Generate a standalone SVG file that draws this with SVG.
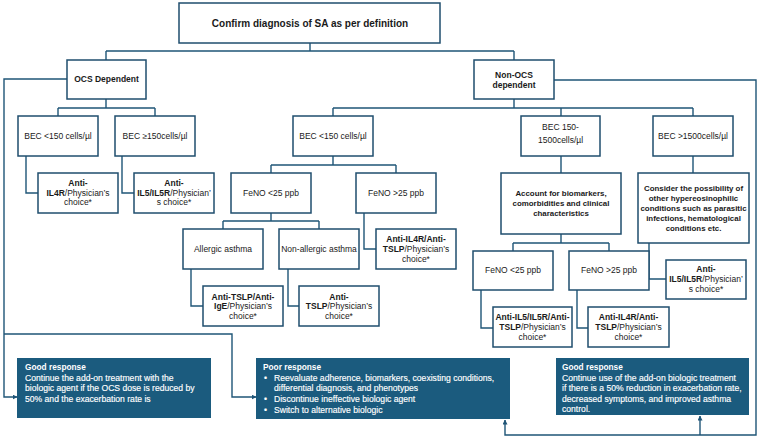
<svg xmlns="http://www.w3.org/2000/svg" width="760" height="438" viewBox="0 0 760 438">
<defs>
<style>
.box{fill:#fff;stroke:#1f4e6e;stroke-width:1.5}
.blue{fill:#1b5b7e;stroke:none}
.ln{fill:none;stroke:#1f5577;stroke-width:1.4}
text{font-family:"Liberation Sans",Arial,sans-serif;fill:#1a1a1a;font-size:8.5px}
.c{text-anchor:middle}
.b{font-weight:bold}
.t{font-size:10px;font-weight:bold}
.ac{font-size:7.9px;font-weight:bold}
.w{fill:#fff;font-size:8.6px;stroke:#fff;stroke-width:0.15}
.wh{fill:#fff;font-size:8.3px;font-weight:bold}
</style>
<marker id="ah" viewBox="0 0 10 10" refX="9" refY="5" markerWidth="5" markerHeight="5" orient="auto" markerUnits="userSpaceOnUse">
<path d="M0,0 L10,5 L0,10 Z" fill="#1f5577"/>
</marker>
</defs>
<rect width="760" height="438" fill="#fff"/>

<g id="connectors">
<path class="ln" d="M310,43 V51 M106,51 H514 M106,51 V60 M514,51 V60"/>
<path class="ln" d="M106,99 V108 M58,108 H155 M58,108 V116 M155,108 V116"/>
<path class="ln" d="M514,99 V108 M333,108 H693 M333,108 V116 M561,108 V116 M693,108 V116"/>
<path class="ln" d="M26,156 V193 H38 M122,156 V193 H134"/>
<path class="ln" d="M333,156 V165 M271,165 H396 M271,165 V173 M396,165 V173"/>
<path class="ln" d="M271,213 V221 M223,221 H319 M223,221 V229 M319,221 V229"/>
<path class="ln" d="M364,213 V249 H376"/>
<path class="ln" d="M191,269 V306 H203 M288,269 V306 H299"/>
<path class="ln" d="M561,156 V173 M693,156 V173"/>
<path class="ln" d="M561,234 V243 M513,243 H609 M513,243 V251 M609,243 V251"/>
<path class="ln" d="M649,243 V279 H666"/>
<path class="ln" d="M481,290 V328 H493 M577,290 V328 H588"/>
<path class="ln" d="M67,79 H4 V397 H17" marker-end="url(#ah)"/>
<path class="ln" d="M4,334 H232 V397 H256" marker-end="url(#ah)"/>
<path class="ln" d="M554,80 H756 V435 H505 V420" marker-end="url(#ah)"/>
<path class="ln" d="M700,435 V416" marker-end="url(#ah)"/>
</g>

<g id="n-top"><rect class="box" x="179" y="3" width="261" height="40"/>
<text class="c t" x="310" y="26.5">Confirm diagnosis of SA as per definition</text></g>

<g id="n-ocs"><rect class="box" x="67" y="60" width="79" height="39"/>
<text class="c b" x="106.5" y="82">OCS Dependent</text></g>

<g id="n-nonocs"><rect class="box" x="474" y="60" width="80" height="39"/>
<text class="c b" x="514" y="78">Non-OCS</text><text class="c b" x="514" y="87.5">dependent</text></g>

<g id="n-bec1"><rect class="box" x="18" y="116" width="80" height="40"/>
<text class="c" x="58" y="139">BEC &lt;150 cells/µl</text></g>

<g id="n-bec2"><rect class="box" x="115" y="116" width="80" height="40"/>
<text class="c" x="155" y="139">BEC ≥150cells/µl</text></g>

<g id="n-bec3"><rect class="box" x="293" y="116" width="80" height="40"/>
<text class="c" x="333" y="139">BEC &lt;150 cells/µl</text></g>

<g id="n-bec4"><rect class="box" x="521" y="116" width="79" height="40"/>
<text class="c" x="560.5" y="130">BEC 150-</text><text class="c" x="560.5" y="143">1500cells/µl</text></g>

<g id="n-bec5"><rect class="box" x="653" y="116" width="80" height="40"/>
<text class="c" x="693" y="139">BEC &gt;1500cells/µl</text></g>

<g id="n-il4r"><rect class="box" x="38" y="173" width="80" height="40"/>
<text class="c" x="78" y="186"><tspan class="b">Anti-</tspan></text>
<text class="c" x="78" y="195.5"><tspan class="b">IL4R</tspan>/Physician’s</text>
<text class="c" x="78" y="205">choice*</text></g>

<g id="n-il5a"><rect class="box" x="134" y="173" width="80" height="40"/>
<text class="c" x="174" y="186"><tspan class="b">Anti-</tspan></text>
<text class="c" x="174" y="195.5"><tspan class="b">IL5/IL5R</tspan>/Physician’</text>
<text class="c" x="174" y="205">s choice*</text></g>

<g id="n-feno1"><rect class="box" x="231" y="173" width="80" height="40"/>
<text class="c" x="271" y="195.5">FeNO &lt;25 ppb</text></g>

<g id="n-feno2"><rect class="box" x="356" y="173" width="80" height="40"/>
<text class="c" x="396" y="195.5">FeNO &gt;25 ppb</text></g>

<g id="n-allergic"><rect class="box" x="183" y="229" width="80" height="40"/>
<text class="c" x="223" y="251.5">Allergic asthma</text></g>

<g id="n-nonallergic"><rect class="box" x="279" y="229" width="80" height="40"/>
<text class="c" x="319" y="251.5">Non-allergic asthma</text></g>

<g id="n-il4rtslp1"><rect class="box" x="376" y="229" width="80" height="40"/>
<text class="c" x="416" y="242"><tspan class="b">Anti-IL4R/Anti-</tspan></text>
<text class="c" x="416" y="252"><tspan class="b">TSLP</tspan>/Physician’s</text>
<text class="c" x="416" y="261.5">choice*</text></g>

<g id="n-tslpige"><rect class="box" x="203" y="286" width="80" height="40"/>
<text class="c" x="243" y="299.5"><tspan class="b">Anti-TSLP/Anti-</tspan></text>
<text class="c" x="243" y="309"><tspan class="b">IgE</tspan>/Physician’s</text>
<text class="c" x="243" y="318.5">choice*</text></g>

<g id="n-tslp"><rect class="box" x="299" y="286" width="80" height="40"/>
<text class="c" x="339" y="299.5"><tspan class="b">Anti-</tspan></text>
<text class="c" x="339" y="309"><tspan class="b">TSLP</tspan>/Physician’s</text>
<text class="c" x="339" y="318.5">choice*</text></g>

<g id="n-account"><rect class="box" x="501" y="173" width="120" height="61"/>
<text class="c ac" x="561" y="196">Account for biomarkers,</text>
<text class="c ac" x="561" y="206">comorbidities and clinical</text>
<text class="c ac" x="561" y="215.5">characteristics</text></g>

<g id="n-consider"><rect class="box" x="638" y="173" width="111" height="70"/>
<text class="c ac" x="693.5" y="191">Consider the possibility of</text>
<text class="c ac" x="693.5" y="201">other hypereosinophilic</text>
<text class="c ac" x="693.5" y="211">conditions such as parasitic</text>
<text class="c ac" x="693.5" y="221">infections, hematological</text>
<text class="c ac" x="693.5" y="231">conditions etc.</text></g>

<g id="n-feno3"><rect class="box" x="473" y="251" width="80" height="39"/>
<text class="c" x="513" y="273">FeNO &lt;25 ppb</text></g>

<g id="n-feno4"><rect class="box" x="569" y="251" width="80" height="39"/>
<text class="c" x="609" y="273">FeNO &gt;25 ppb</text></g>

<g id="n-il5tslp"><rect class="box" x="493" y="307" width="79" height="40"/>
<text class="c" x="532.5" y="320"><tspan class="b">Anti-IL5/IL5R/Anti-</tspan></text>
<text class="c" x="532.5" y="330"><tspan class="b">TSLP</tspan>/Physician’s</text>
<text class="c" x="532.5" y="340">choice*</text></g>

<g id="n-il4rtslp2"><rect class="box" x="588" y="307" width="81" height="40"/>
<text class="c" x="628.5" y="320"><tspan class="b">Anti-IL4R/Anti-</tspan></text>
<text class="c" x="628.5" y="330"><tspan class="b">TSLP</tspan>/Physician’s</text>
<text class="c" x="628.5" y="340">choice*</text></g>

<g id="n-il5b"><rect class="box" x="666" y="260" width="80" height="39"/>
<text class="c" x="706" y="271.5"><tspan class="b">Anti-</tspan></text>
<text class="c" x="706" y="282"><tspan class="b">IL5/IL5R</tspan>/Physician’</text>
<text class="c" x="706" y="292">s choice*</text></g>

<g id="n-good1"><rect class="blue" x="17" y="358" width="194" height="60"/>
<text class="wh" x="25" y="370">Good response</text>
<text class="w" x="25" y="380.5">Continue the add-on treatment with the</text>
<text class="w" x="25" y="391">biologic agent if the OCS dose is reduced by</text>
<text class="w" x="25" y="401.5">50% and the exacerbation rate is</text></g>

<g id="n-poor"><rect class="blue" x="256" y="358" width="254" height="61"/>
<text class="wh" x="263" y="370">Poor response</text>
<text class="w" x="264" y="380.5">•</text><text class="w" x="274" y="380.5">Reevaluate adherence, biomarkers, coexisting conditions,</text>
<text class="w" x="274" y="391">differential diagnosis, and phenotypes</text>
<text class="w" x="264" y="402">•</text><text class="w" x="274" y="402">Discontinue ineffective biologic agent</text>
<text class="w" x="264" y="413">•</text><text class="w" x="274" y="413">Switch to alternative biologic</text></g>

<g id="n-good2"><rect class="blue" x="556" y="358" width="193" height="57"/>
<text class="wh" x="562" y="370">Good response</text>
<text class="w" x="562" y="380.5">Continue use of the add-on biologic treatment</text>
<text class="w" x="562" y="391">if there is a 50% reduction in exacerbation rate,</text>
<text class="w" x="562" y="401.5">decreased symptoms, and improved asthma</text>
<text class="w" x="562" y="412">control.</text></g>
</svg>
